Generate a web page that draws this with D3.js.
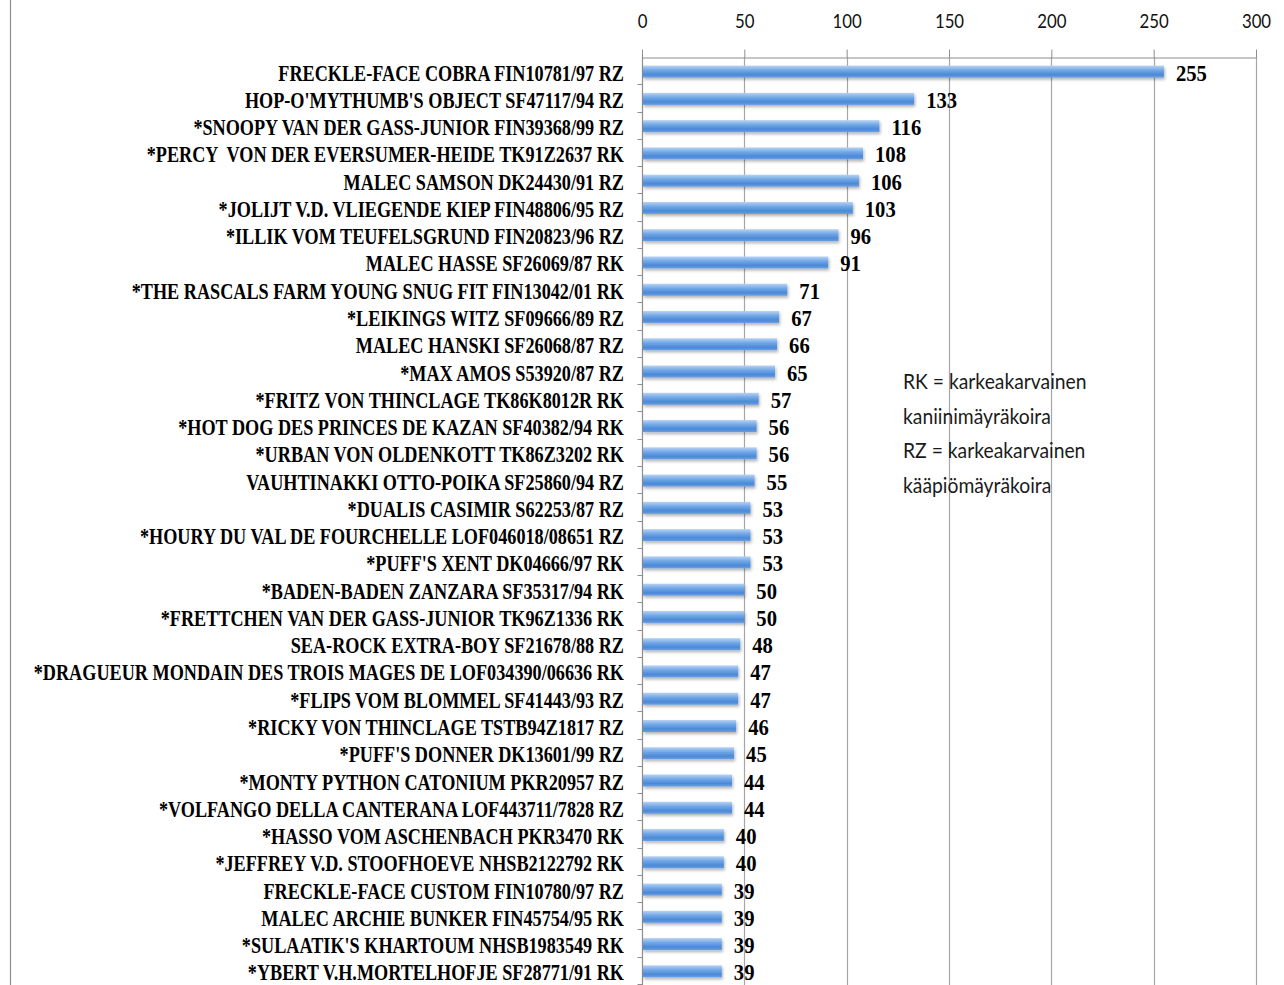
<!DOCTYPE html>
<html>
<head>
<meta charset="utf-8">
<script src="https://cdn.jsdelivr.net/npm/d3@7"></script>
<style>
  body { margin: 0; background: #fff; }
  svg { display: block; }
</style>
</head>
<body>
<div id="chart"></div>
<script>
// koirien nimet ja arvot
const dogs = [
  "FRECKLE-FACE COBRA FIN10781/97 RZ",
  "HOP-O'MYTHUMB'S OBJECT SF47117/94 RZ",
  "*SNOOPY VAN DER GASS-JUNIOR FIN39368/99 RZ",
  "*PERCY  VON DER EVERSUMER-HEIDE TK91Z2637 RK",
  "MALEC SAMSON DK24430/91 RZ",
  "*JOLIJT V.D. VLIEGENDE KIEP FIN48806/95 RZ",
  "*ILLIK VOM TEUFELSGRUND FIN20823/96 RZ",
  "MALEC HASSE SF26069/87 RK",
  "*THE RASCALS FARM YOUNG SNUG FIT FIN13042/01 RK",
  "*LEIKINGS WITZ SF09666/89 RZ",
  "MALEC HANSKI SF26068/87 RZ",
  "*MAX AMOS S53920/87 RZ",
  "*FRITZ VON THINCLAGE TK86K8012R RK",
  "*HOT DOG DES PRINCES DE KAZAN SF40382/94 RK",
  "*URBAN VON OLDENKOTT TK86Z3202 RK",
  "VAUHTINAKKI OTTO-POIKA SF25860/94 RZ",
  "*DUALIS CASIMIR S62253/87 RZ",
  "*HOURY DU VAL DE FOURCHELLE LOF046018/08651 RZ",
  "*PUFF'S XENT DK04666/97 RK",
  "*BADEN-BADEN ZANZARA SF35317/94 RK",
  "*FRETTCHEN VAN DER GASS-JUNIOR TK96Z1336 RK",
  "SEA-ROCK EXTRA-BOY SF21678/88 RZ",
  "*DRAGUEUR MONDAIN DES TROIS MAGES DE LOF034390/06636 RK",
  "*FLIPS VOM BLOMMEL SF41443/93 RZ",
  "*RICKY VON THINCLAGE TSTB94Z1817 RZ",
  "*PUFF'S DONNER DK13601/99 RZ",
  "*MONTY PYTHON CATONIUM PKR20957 RZ",
  "*VOLFANGO DELLA CANTERANA LOF443711/7828 RZ",
  "*HASSO VOM ASCHENBACH PKR3470 RK",
  "*JEFFREY V.D. STOOFHOEVE NHSB2122792 RK",
  "FRECKLE-FACE CUSTOM FIN10780/97 RZ",
  "MALEC ARCHIE BUNKER FIN45754/95 RK",
  "*SULAATIK'S KHARTOUM NHSB1983549 RK",
  "*YBERT V.H.MORTELHOFJE SF28771/91 RK"
];
const counts = [255, 133, 116, 108, 106, 103, 96, 91, 71, 67, 66, 65, 57, 56, 56, 55,
  53, 53, 53, 50, 50, 48, 47, 47, 46, 45, 44, 44, 40, 40, 39, 39, 39, 39];
const xTicks = [0, 50, 100, 150, 200, 250, 300];
const legendLines = ["RK = karkeakarvainen", "kaniinimäyräkoira", "RZ = karkeakarvainen", "kääpiömäyräkoira"];

const data = dogs.map((name, i) => ({ name, count: counts[i] }));

const width = 1284;
const height = 985;
const margin = { top: 57, left: 642, right: 28, bottom: 1 };

const svg = d3.select("#chart")
  .append("svg")
  .attr("width", width)
  .attr("height", height);

// palkkien liukuväri + varjo
const defs = svg.append("defs");
const grad = defs.append("linearGradient")
  .attr("id", "barGrad")
  .attr("x1", 0).attr("y1", 0).attr("x2", 0).attr("y2", 1);
grad.append("stop").attr("offset", "0%").attr("stop-color", "#b7d2f3");
grad.append("stop").attr("offset", "40%").attr("stop-color", "#6fa6e6");
grad.append("stop").attr("offset", "75%").attr("stop-color", "#4b89d8");
grad.append("stop").attr("offset", "100%").attr("stop-color", "#6c9fe0");
const shadow = defs.append("filter").attr("id", "shadow")
  .attr("x", "-5%").attr("y", "-50%").attr("width", "115%").attr("height", "220%");
shadow.append("feDropShadow")
  .attr("dx", 1).attr("dy", 2).attr("stdDeviation", 1.5)
  .attr("flood-color", "#000").attr("flood-opacity", 0.3);

const x = d3.scaleLinear()
  .domain([0, 300])
  .range([margin.left, width - margin.right]);

const y = d3.scaleBand()
  .domain(dogs)
  .range([margin.top, height - margin.bottom])
  .paddingInner(0)
  .paddingOuter(0);

const barH = 12;

// kaavion reunaviiva vasemmalla
svg.append("line")
  .attr("x1", 10.5).attr("x2", 10.5)
  .attr("y1", 0).attr("y2", height)
  .attr("stroke", "#8e8e8e")
  .attr("stroke-width", 1.2);

// pystysuorat apuviivat
svg.append("g")
  .selectAll("line")
  .data(xTicks.slice(1))
  .join("line")
  .attr("x1", d => Math.round(x(d)) + 0.5)
  .attr("x2", d => Math.round(x(d)) + 0.5)
  .attr("y1", margin.top)
  .attr("y2", height)
  .attr("stroke", "#a6a6a6")
  .attr("stroke-width", 1.2);

// ylä-akseli
const xAxis = svg.append("g")
  .attr("transform", `translate(0,${margin.top + 0.5})`)
  .call(d3.axisTop(x).tickValues(xTicks).tickSize(8).tickSizeOuter(0).tickFormat(d3.format("d")));
xAxis.select(".domain").attr("stroke", "#8e8e8e").attr("stroke-width", 1.2);
xAxis.selectAll(".tick line").attr("stroke", "#8e8e8e");
xAxis.selectAll(".tick text")
  .attr("font-family", "Lato, 'Open Sans', sans-serif")
  .attr("font-size", 20)
  .attr("fill", "#111")
  .attr("x", 0)
  .attr("y", -30)
  .attr("dy", 0)
  .attr("transform", "scale(0.84,1)");

// vasen akseli
const yAxis = svg.append("g")
  .attr("transform", `translate(${margin.left + 0.5},0)`);
yAxis.append("line")
  .attr("y1", margin.top).attr("y2", height)
  .attr("stroke", "#8e8e8e").attr("stroke-width", 1.2);
yAxis.selectAll(".ytick")
  .data(dogs)
  .join("line")
  .attr("class", "ytick")
  .attr("x1", -5).attr("x2", 0)
  .attr("y1", d => Math.round(y(d) + y.bandwidth()) + 0.5)
  .attr("y2", d => Math.round(y(d) + y.bandwidth()) + 0.5)
  .attr("stroke", "#8e8e8e");

// palkit
svg.append("g")
  .selectAll("rect")
  .data(data)
  .join("rect")
  .attr("x", x(0) + 1)
  .attr("y", d => y(d.name) + y.bandwidth() / 2 - barH / 2 + 1)
  .attr("width", d => x(d.count) - x(0) - 1)
  .attr("height", barH)
  .attr("fill", "url(#barGrad)")
  .attr("filter", "url(#shadow)");

const labelFont = "'Liberation Serif', 'Times New Roman', serif";

// nimet
const names = svg.append("g")
  .selectAll("text")
  .data(data)
  .join("text")
  .attr("text-anchor", "end")
  .attr("font-family", labelFont)
  .attr("font-weight", "bold")
  .attr("font-size", 24)
  .attr("fill", "#000")
  .style("white-space", "pre")
  .text(d => d.name);

// kapeampi fontti: mitataan ensimmäinen nimi
const target = 346;
const sx = target / names.node().getComputedTextLength();
names.attr("transform", d => `translate(624,${y(d.name) + y.bandwidth() / 2 + 10}) scale(${sx},1)`);

// arvot
svg.append("g")
  .selectAll("text")
  .data(data)
  .join("text")
  .attr("font-family", labelFont)
  .attr("font-weight", "bold")
  .attr("font-size", 24)
  .attr("fill", "#000")
  .attr("transform", d => `translate(${x(d.count) + 12},${y(d.name) + y.bandwidth() / 2 + 10}) scale(0.86,1)`)
  .text(d => d.count);

// selite
svg.append("g")
  .selectAll("text")
  .data(legendLines)
  .join("text")
  .attr("font-family", "Lato, 'Open Sans', sans-serif")
  .attr("font-size", 21)
  .attr("fill", "#1a1a1a")
  .attr("transform", (d, i) => `translate(903,${389 + i * 34.5}) scale(0.92,1)`)
  .text(d => d);
</script>
</body>
</html>
